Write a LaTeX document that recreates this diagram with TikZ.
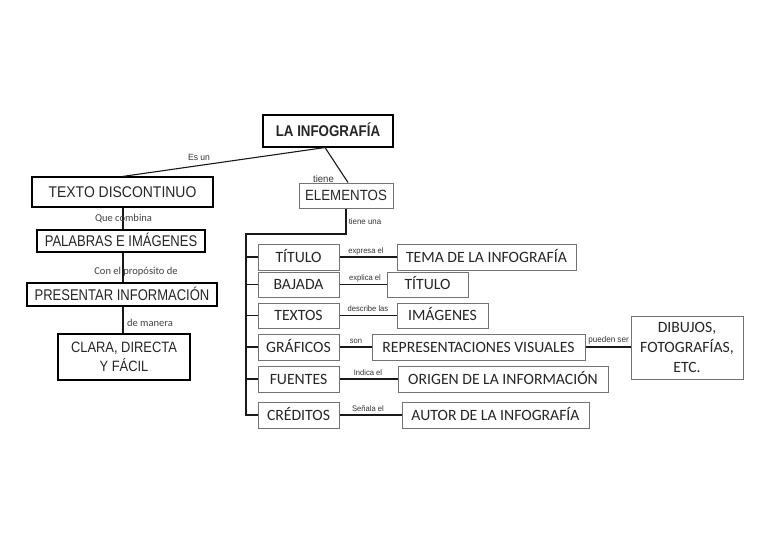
\documentclass[tikz,border=0pt]{standalone}
\usepackage{fontspec}
\setmainfont{Liberation Sans}
\newfontfamily\arialn{Liberation Sans}[FakeStretch=0.9]
\newfontfamily\arialc{Liberation Sans}[FakeStretch=0.84]
\newfontfamily\arialb{Liberation Sans}[FakeStretch=0.86]
\newfontfamily\ariall{Liberation Sans}[FakeStretch=0.95]
\newfontfamily\calib{Carlito}
\begin{document}
\begin{tikzpicture}[x=1pt,y=-1pt,
  blk/.style={draw=black,line width=1.1pt,fill=white,inner sep=0pt,align=center,text height=11.1pt,text depth=0pt,font=\arialn\fontsize{15.5}{17}\selectfont,text=black!85},
  gbox/.style={draw=black!55,line width=1pt,fill=white,inner sep=0pt,align=center,text height=10.1pt,text depth=0pt,font=\calib\fontsize{15.7}{17}\selectfont,text=black!85},
  multi/.style={text height=,text depth=},
  lbl/.style={inner sep=0pt,font=\ariall\fontsize{8}{9}\selectfont,text=black!80},
  clbl/.style={inner sep=0pt,font=\calib\fontsize{10.5}{11}\selectfont,text=black!75},
  con/.style={draw=black!90,line width=1.1pt}]
\useasboundingbox (0,0) rectangle (768,543);
% nodes
\node[blk,minimum width=130pt,minimum height=32pt,font=\arialb\bfseries\fontsize{15.5}{17}\selectfont] (inf) at (328,131) {LA INFOGRAFÍA};
\node[blk,minimum width=181pt,minimum height=30pt] (td) at (122.5,192) {TEXTO DISCONTINUO};
\node[gbox,minimum width=94pt,minimum height=25pt,text height=10.6pt,font=\arialn\fontsize{14.8}{16}\selectfont] (el) at (346,195.5) {ELEMENTOS};
\node[blk,minimum width=168pt,minimum height=22pt,font=\arialc\fontsize{15.5}{17}\selectfont] (pal) at (121,241) {PALABRAS E IMÁGENES};
\node[blk,minimum width=190pt,minimum height=23pt,font=\arialc\fontsize{15.5}{17}\selectfont] (pres) at (122,294.5) {PRESENTAR INFORMACIÓN};
\node[blk,multi,minimum width=132pt,minimum height=46pt,font=\arialb\fontsize{15}{18.5}\selectfont] (cla) at (124,357) {CLARA, DIRECTA\\Y FÁCIL};
% right column
\node[gbox,minimum width=81pt,minimum height=26pt] (tit) at (298.5,257) {TÍTULO};
\node[gbox,minimum width=81pt,minimum height=25pt] (baj) at (298.5,284.5) {BAJADA};
\node[gbox,minimum width=81pt,minimum height=25pt] (txt) at (298.5,315.5) {TEXTOS};
\node[gbox,minimum width=81pt,minimum height=26pt] (gra) at (298.5,347) {GRÁFICOS};
\node[gbox,minimum width=81pt,minimum height=26pt] (fue) at (298.5,379) {FUENTES};
\node[gbox,minimum width=81pt,minimum height=26pt] (cre) at (298.5,415) {CRÉDITOS};
\node[gbox,minimum width=179pt,minimum height=26pt] (tema) at (486.5,257) {TEMA DE LA INFOGRAFÍA};
\node[gbox,minimum width=81pt,minimum height=25pt] (tit2) at (427.5,284.5) {TÍTULO};
\node[gbox,minimum width=91pt,minimum height=25pt] (ima) at (442.5,315.5) {IMÁGENES};
\node[gbox,minimum width=213pt,minimum height=26pt] (rep) at (478.5,347) {REPRESENTACIONES VISUALES};
\node[gbox,multi,minimum width=112pt,minimum height=63pt,font=\calib\fontsize{15.7}{20}\selectfont] (dib) at (687,347.5) {DIBUJOS,\\FOTOGRAFÍAS,\\ETC.};
\node[gbox,minimum width=210pt,minimum height=26pt] (ori) at (503,379) {ORIGEN DE LA INFORMACIÓN};
\node[gbox,minimum width=187pt,minimum height=26pt] (aut) at (495.5,415) {AUTOR DE LA INFOGRAFÍA};
% connectors
\draw[con] ([xshift=-3pt]inf.south) -- (td.north);
\draw[con] ([xshift=-3pt]inf.south) -- ([xshift=2pt]el.north);
\draw[con] ([xshift=0.5pt]td.south) -- ([xshift=0.5pt]td.south |- pal.north);
\draw[con] ([xshift=0.5pt]td.south |- pal.south) -- ([xshift=0.5pt]td.south |- pres.north);
\draw[con] ([xshift=0.5pt]td.south |- pres.south) -- ([xshift=0.5pt]td.south |- cla.north);
\coordinate (trunk) at (246,234);
\draw[con] (el.south) -- (el.south |- trunk) -- (trunk) -- (trunk |- cre.west) -- (cre.west);
\foreach \n in {tit,baj,txt,gra,fue} \draw[con] (trunk |- \n.west) -- (\n.west);
\draw[con] (tit.east) -- (tema.west);
\draw[con] (baj.east) -- (tit2.west);
\draw[con] (txt.east) -- (ima.west);
\draw[con] (gra.east) -- (rep.west);
\draw[con] (rep.east) -- (rep.east -| dib.west);
\draw[con] (fue.east) -- (ori.west);
\draw[con] (cre.east) -- (aut.west);
% labels
\node[lbl,font=\ariall\fontsize{9}{10}\selectfont] (l1) at (199,157) {Es un};
\node[lbl,font=\ariall\fontsize{10}{11}\selectfont] (l2) at (323.5,179) {tiene};
\node[clbl] (l3) at (123.5,219) {Que combina};
\node[clbl] (l4) at (136,272) {Con el propósito de};
\node[clbl] (l5) at (150,323) {de manera};
\node[lbl,font=\ariall\fontsize{8.3}{9}\selectfont] (l6) at (365,222) {tiene una};
\node[lbl] (l7) at (366,251) {expresa el};
\node[lbl] (l8) at (365,278) {explica el};
\node[lbl] (l9) at (368,309) {describe las};
\node[lbl] (l10) at (356,341) {son};
\node[lbl,font=\ariall\fontsize{8.5}{9}\selectfont] (l11) at (608.5,340) {pueden ser};
\node[lbl] (l12) at (368,373) {Indica el};
\node[lbl] (l13) at (368,409) {Señala el};
\end{tikzpicture}
\end{document}
